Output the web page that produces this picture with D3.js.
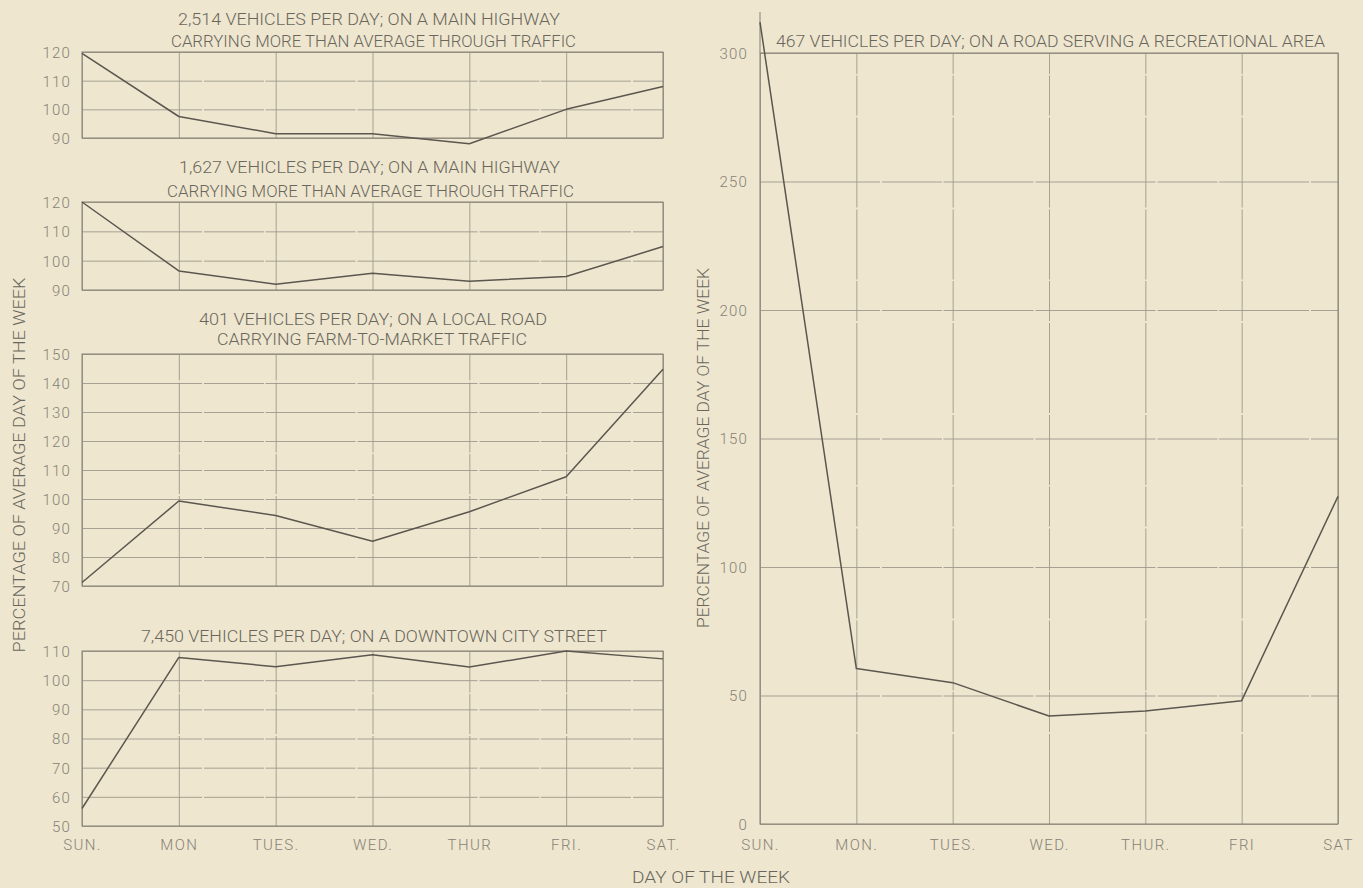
<!DOCTYPE html>
<html>
<head>
<meta charset="utf-8">
<script src="https://cdn.jsdelivr.net/npm/d3@7"></script>
<style>
  html, body { margin: 0; padding: 0; background: #eee6cf; }
  svg { display: block; }
  text { font-family: Roboto, "Liberation Sans", "DejaVu Sans", sans-serif; font-weight: 300; }
</style>
</head>
<body>
<svg id="chart" width="1363" height="888"></svg>
<script>
// ---------- DATA ----------
const daysLeft  = ["SUN.", "MON", "TUES.", "WED.", "THUR", "FRI.", "SAT."];
const daysRight = ["SUN.", "MON.", "TUES.", "WED.", "THUR.", "FRI", "SAT"];

const highwayA      = [119.5, 97.5, 91.5, 91.5, 88, 100, 108];     // 2,514 veh/day
const highwayB      = [120, 96.5, 92, 95.7, 93, 94.6, 104.8];      // 1,627 veh/day
const localRoad     = [71.2, 99.3, 94.3, 85.4, 95.6, 107.7, 144.7];// 401 veh/day
const downtown      = [56, 107.8, 104.6, 108.7, 104.5, 110, 107.3];// 7,450 veh/day
const recreational  = [312, 60.5, 55, 42, 44, 48, 127.5];          // 467 veh/day

const ticksA    = [90, 100, 110, 120];
const ticksB    = [90, 100, 110, 120];
const ticksLoc  = [70, 80, 90, 100, 110, 120, 130, 140, 150];
const ticksDown = [50, 60, 70, 80, 90, 100, 110];
const ticksRec  = [0, 50, 100, 150, 200, 250, 300];

const titlesA    = ["2,514 VEHICLES PER DAY; ON A MAIN HIGHWAY", "CARRYING MORE THAN AVERAGE THROUGH TRAFFIC"];
const titlesB    = ["1,627 VEHICLES PER DAY; ON A MAIN HIGHWAY", "CARRYING MORE THAN AVERAGE THROUGH TRAFFIC"];
const titlesLoc  = ["401 VEHICLES PER DAY; ON A LOCAL ROAD", "CARRYING FARM-TO-MARKET TRAFFIC"];
const titlesDown = ["7,450 VEHICLES PER DAY; ON A  DOWNTOWN CITY STREET"];
const titlesRec  = ["467 VEHICLES PER DAY; ON A ROAD SERVING A RECREATIONAL AREA"];

const yAxisTitle = "PERCENTAGE OF AVERAGE DAY OF THE WEEK";
const xAxisTitle = "DAY OF THE WEEK";

// ---------- STYLE ----------
const C = {
  grid: "#9d988c",
  border: "#858074",
  line: "#5b574f",
  title: "#6a665c",
  tick: "#878276"
};

const svg = d3.select("#chart");

// layout for each panel
const panels = [
  { values: highwayA, ticks: ticksA, domain: [90, 120], x0: 82, x1: 663, top: 52, bottom: 138,
    titles: titlesA, titleY: [25, 47], titleX: [[178, 560], [171, 576]], days: daysLeft, showX: false, tickX: 71 },
  { values: highwayB, ticks: ticksB, domain: [90, 120], x0: 82, x1: 663, top: 202, bottom: 290,
    titles: titlesB, titleY: [173, 197], titleX: [[179, 560], [167, 574]], days: daysLeft, showX: false, tickX: 71 },
  { values: localRoad, ticks: ticksLoc, domain: [70, 150], x0: 82, x1: 663, top: 354, bottom: 586,
    titles: titlesLoc, titleY: [325, 345], titleX: [[199, 547], [217, 527]], days: daysLeft, showX: false, tickX: 71 },
  { values: downtown, ticks: ticksDown, domain: [50, 110], x0: 82, x1: 663, top: 651, bottom: 826,
    titles: titlesDown, titleY: [642], titleX: [[141, 607]], days: daysLeft, showX: true, tickX: 71 },
  { values: recreational, ticks: ticksRec, domain: [0, 300], x0: 760, x1: 1338, top: 53, bottom: 824,
    titles: titlesRec, titleY: [47], titleX: [[776, 1325]], days: daysRight, showX: true, tickX: 748, axisExt: 12 }
];

panels.forEach(p => {
  const g = svg.append("g");
  const x = d3.scalePoint().domain(d3.range(p.values.length)).range([p.x0, p.x1]);
  const y = d3.scaleLinear().domain(p.domain).range([p.bottom, p.top]);

  // horizontal gridlines via axis
  const yGrid = d3.axisLeft(y).tickValues(p.ticks).tickSize(-(p.x1 - p.x0)).tickFormat("");
  const gy = g.append("g").attr("transform", `translate(${p.x0},0)`).call(yGrid);
  gy.select(".domain").remove();
  gy.selectAll(".tick line")
    .attr("stroke", C.grid).attr("stroke-width", 0.9)
    .attr("stroke-dasharray", d => (d === p.domain[0] || d === p.domain[1]) ? null : "120,2,60,1.5,90,2");

  // vertical gridlines via axis
  const xGrid = d3.axisBottom(x).tickSize(-(p.bottom - p.top)).tickFormat("");
  const gx = g.append("g").attr("transform", `translate(0,${p.bottom})`).call(xGrid);
  gx.select(".domain").remove();
  gx.selectAll(".tick line")
    .attr("stroke", C.grid).attr("stroke-width", 0.9)
    .attr("stroke-dasharray", (d, i) => (i === 0 || i === p.values.length - 1) ? null : "90,2,40,1.5,70,2");

  // border rectangle
  g.append("rect")
    .attr("x", p.x0).attr("y", p.top)
    .attr("width", p.x1 - p.x0).attr("height", p.bottom - p.top)
    .attr("fill", "none").attr("stroke", C.border).attr("stroke-width", 1);

  // extended left axis (right panel)
  if (p.axisExt !== undefined) {
    g.append("line")
      .attr("x1", p.x0).attr("x2", p.x0)
      .attr("y1", p.axisExt).attr("y2", p.top)
      .attr("stroke", C.border).attr("stroke-width", 1);
  }

  // y tick labels
  const yLab = d3.axisLeft(y).tickValues(p.ticks).tickSize(0).tickPadding(0);
  const gl = g.append("g").attr("transform", `translate(${p.tickX},0)`).call(yLab);
  gl.select(".domain").remove();
  gl.selectAll("text")
    .attr("fill", C.tick).attr("font-size", 15).attr("letter-spacing", 1.2)
    .attr("font-family", "Roboto, 'Liberation Sans', sans-serif").attr("font-weight", 300)
    .attr("dy", "0.36em");

  // x tick labels
  if (p.showX) {
    const xLab = d3.axisBottom(x).tickSize(0).tickPadding(0).tickFormat(i => p.days[i]);
    const gxl = g.append("g").attr("transform", `translate(0,850)`).call(xLab);
    gxl.select(".domain").remove();
    gxl.selectAll("text")
      .attr("fill", C.tick).attr("font-size", 15).attr("letter-spacing", 1.4)
      .attr("font-family", "Roboto, 'Liberation Sans', sans-serif").attr("font-weight", 300)
      .attr("dy", 0);
  }

  // data line
  const line = d3.line().x((d, i) => x(i)).y(d => y(d));
  g.append("path")
    .datum(p.values)
    .attr("d", line)
    .attr("fill", "none")
    .attr("stroke", C.line)
    .attr("stroke-width", 1.5)
    .attr("stroke-linejoin", "round");

  // titles
  p.titles.forEach((t, i) => {
    const [a, b] = p.titleX[i];
    g.append("text")
      .attr("x", a).attr("y", p.titleY[i])
      .attr("font-size", 17)
      .attr("fill", C.title)
      .attr("textLength", b - a)
      .attr("lengthAdjust", "spacingAndGlyphs")
      .text(t);
  });
});

// axis titles
svg.append("text")
  .attr("transform", "translate(25,465) rotate(-90)")
  .attr("text-anchor", "middle")
  .attr("font-size", 17).attr("fill", C.title)
  .attr("textLength", 375).attr("lengthAdjust", "spacingAndGlyphs")
  .text(yAxisTitle);

svg.append("text")
  .attr("transform", "translate(709,448) rotate(-90)")
  .attr("text-anchor", "middle")
  .attr("font-size", 17).attr("fill", C.title)
  .attr("textLength", 360).attr("lengthAdjust", "spacingAndGlyphs")
  .text(yAxisTitle);

svg.append("text")
  .attr("x", 632).attr("y", 883)
  .attr("font-size", 17).attr("fill", C.title)
  .attr("textLength", 158).attr("lengthAdjust", "spacingAndGlyphs")
  .text(xAxisTitle);
</script>
</body>
</html>
